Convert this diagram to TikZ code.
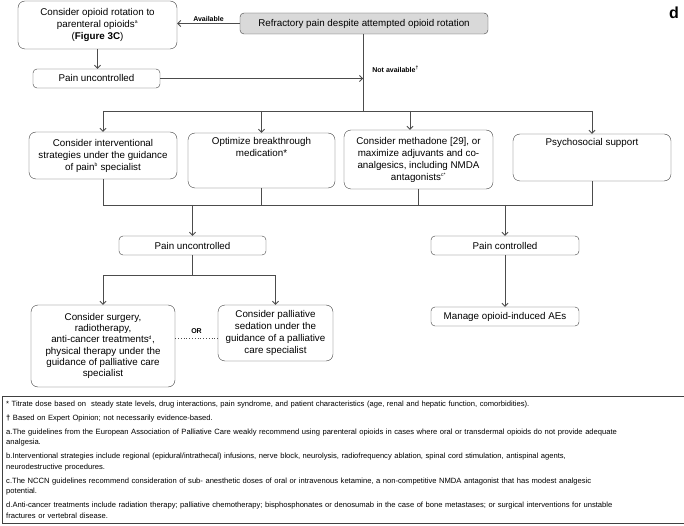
\documentclass[tikz,border=0pt]{standalone}
\usepackage{fontspec}
\setmainfont{Liberation Sans}
\usepackage{tikz}
\usetikzlibrary{arrows.meta}
\tikzset{>={Straight Barb[length=3pt,width=6pt]}}
\tikzstyle{box} = [draw=black!75, rounded corners=7pt, align=center,
    inner sep=0pt, font=\fontsize{9.8}{12}\selectfont]
\tikzstyle{pill} = [draw=black!75, rounded corners=4pt, align=center,
    inner sep=0pt, minimum height=19pt, font=\fontsize{9.8}{12}\selectfont]
\tikzstyle{tag} = [inner sep=1pt, font=\bfseries\fontsize{7}{8}\selectfont]
\tikzstyle{link} = [draw=black!70, line width=0.8pt]
\tikzstyle{notes} = [draw=black!75, anchor=north west, align=left,
    text width=674pt, inner xsep=4pt, inner ysep=0pt, minimum height=127pt,
    font=\fontsize{7.6}{10.5}\selectfont]

\begin{document}
\begin{tikzpicture}[x=1pt,y=-1pt]
\useasboundingbox (0,0) rectangle (684,526);
\begin{scope}
    %boxes
    \node[box, minimum width=159pt, minimum height=48pt] (rot) at (97.5,25)
        {Consider opioid rotation to\\ parenteral opioids\textsuperscript{\tiny a}\\ (\textbf{Figure 3C})};
    \node[pill, fill=black!15, minimum width=248pt, minimum height=21pt] (refr) at (364,23.5)
        {Refractory pain despite attempted opioid rotation};
    \node[pill, minimum width=127pt] (unc1) at (96.5,78.5) {Pain uncontrolled};
    \node[box, minimum width=148pt, minimum height=47pt] (intv) at (103,155.5)
        {Consider interventional\\ strategies under the guidance\\ of pain\textsuperscript{\tiny b} specialist};
    \node[box, minimum width=147pt, minimum height=55pt] (brk) at (261.5,160.5)
        {\parbox[c][47pt][t]{140pt}{\centering Optimize breakthrough\\ medication*}};
    \node[box, minimum width=149pt, minimum height=59pt] (meth) at (418.5,159.5)
        {Consider methadone [29], or\\ maximize adjuvants and co-\\ analgesics, including NMDA\\ antagonists\textsuperscript{\tiny c*}};
    \node[box, minimum width=158pt, minimum height=47pt] (psy) at (592,157.5)
        {\parbox[c][39pt][t]{150pt}{\centering Psychosocial support}};
    \node[pill, minimum width=147pt] (unc2) at (192.5,245.5) {Pain uncontrolled};
    \node[pill, minimum width=148pt] (ctrl) at (505,245.5) {Pain controlled};
    \node[box, minimum width=144pt, minimum height=82pt, font=\fontsize{9.8}{11.3}\selectfont] (surg) at (103,346)
        {Consider surgery,\\ radiotherapy,\\ anti-cancer treatments\textsuperscript{\tiny d},\\ physical therapy under the\\ guidance of palliative care\\ specialist};
    \node[box, minimum width=115pt, minimum height=56pt] (sed) at (275.5,333)
        {Consider palliative\\ sedation under the\\ guidance of a palliative\\ care specialist};
    \node[pill, minimum width=148pt] (aes) at (505,316.5) {Manage opioid-induced AEs};
    \node[font=\bfseries\fontsize{16}{16}\selectfont, inner sep=0pt] (panel) at (674,12.5) {d};
    %junctions
    \coordinate (split) at (363,111);
    \coordinate (merge) at (103,205);
    \coordinate (fork) at (192.5,275);
    %lines
    \draw[link,->] (refr.west) -- (refr.west -| rot.east)
        node[tag, midway, above=1pt] (avail) {Available};
    \draw[link,->] (rot.south) -- (rot.south |- unc1.north);
    \draw[link] (refr.south -| split) -- (split);
    \draw[link,->] (unc1.east) -- (unc1.east -| split)
        node[tag, anchor=south west, xshift=8pt, yshift=5pt] (notavail) {Not available\textsuperscript{\tiny\dag}};
    \draw[link] (split -| intv.north) -- (split -| psy.north);
    \draw[link,->] (split -| intv.north) -- (intv.north);
    \draw[link,->] (split -| brk.north) -- (brk.north);
    \draw[link,->] ([xshift=-8.5pt]meth.north |- split) -- ([xshift=-8.5pt]meth.north);
    \draw[link,->] (split -| psy.north) -- (psy.north);
    \draw[link] (intv.south) -- (merge) -- (merge -| psy.south) -- (psy.south);
    \draw[link] (brk.south) -- (brk.south |- merge);
    \draw[link] (meth.south) -- (meth.south |- merge);
    \draw[link,->] (merge -| unc2.north) -- (unc2.north);
    \draw[link,->] (merge -| ctrl.north) -- (ctrl.north);
    \draw[link] (unc2.south) -- (fork);
    \draw[link,->] (fork) -- (fork -| surg.north) -- (surg.north);
    \draw[link,->] (fork) -- (fork -| sed.north) -- (sed.north);
    \draw[link,->] (ctrl.south) -- (aes.north);
    \draw[link, dotted] ([yshift=8pt]surg.east) -- ([yshift=8pt]surg.east -| sed.west)
        node[tag, midway, above=3pt] (or) {OR};
    %footnotes
    \node[notes] (fn) at (2,396) {%
        * Titrate dose based on\ \ steady state levels, drug interactions, pain syndrome, and patient characteristics (age, renal and hepatic function, comorbidities).\\[3.5pt]
        \textbf{\dag} Based on Expert Opinion; not necessarily evidence-based.\\[3.5pt]
        a.The guidelines from the European Association of Palliative Care weakly recommend using parenteral opioids in cases where oral or transdermal opioids do not provide adequate\\
        analgesia.\\[3.5pt]
        b.Interventional strategies include regional (epidural/intrathecal) infusions, nerve block, neurolysis, radiofrequency ablation, spinal cord stimulation, antispinal agents,\\
        neurodestructive procedures.\\[3.5pt]
        c.The NCCN guidelines recommend consideration of sub- anesthetic doses of oral or intravenous ketamine, a non-competitive NMDA antagonist that has modest analgesic\\
        potential.\\[3.5pt]
        d.Anti-cancer treatments include radiation therapy; palliative chemotherapy; bisphosphonates or denosumab in the case of bone metastases; or surgical interventions for unstable\\
        fractures or vertebral disease.};
\end{scope}
\end{tikzpicture}
\end{document}
